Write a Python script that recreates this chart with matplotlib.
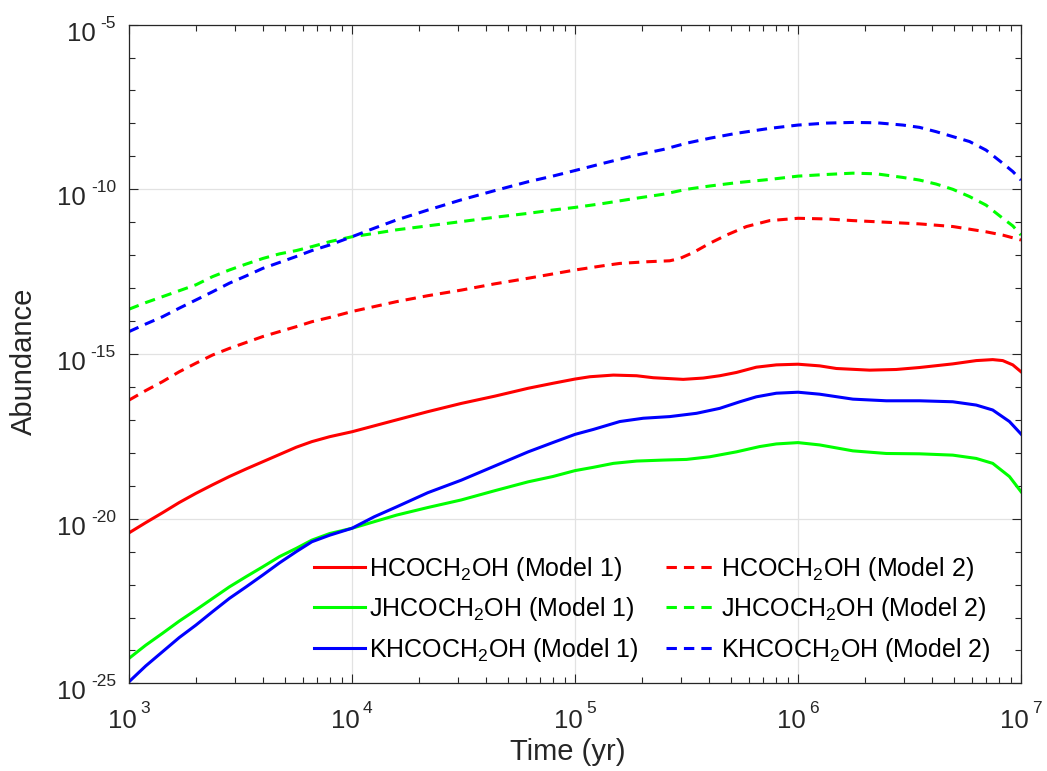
import matplotlib
matplotlib.use("Agg")
import matplotlib.pyplot as plt
from matplotlib.ticker import FixedLocator, NullFormatter
from matplotlib.transforms import offset_copy
import numpy as np

plt.rcParams.update({
    'font.family': ['Liberation Sans', 'DejaVu Sans'],
    'mathtext.fontset': 'custom',
    'mathtext.rm': 'Liberation Sans',
    'mathtext.it': 'Liberation Sans',
    'mathtext.bf': 'Liberation Sans',
})
INK = '#262626'

# log10(t / yr) sample points, 1e3 .. 1e5 and 1e5 .. 1e7
t_early = [3.0, 3.075, 3.15, 3.225, 3.3, 3.375, 3.45, 3.525, 3.6, 3.675, 3.75, 3.82, 3.9,
           4.0, 4.1, 4.2, 4.34, 4.49, 4.64, 4.79, 4.9, 5.0]
t_late_a = [5.067, 5.172, 5.276, 5.351, 5.485, 5.575, 5.649, 5.724, 5.813, 5.903, 6.0, 6.097,
            6.172, 6.321, 6.44, 6.545, 6.694, 6.799, 6.873, 6.918, 6.963, 7.0]
t_late_b = [5.082, 5.201, 5.306, 5.425, 5.545, 5.649, 5.739, 5.813, 5.903, 6.0, 6.097, 6.246,
            6.396, 6.545, 6.694, 6.799, 6.873, 6.948, 7.0]
t_late_c = [5.082, 5.172, 5.276, 5.396, 5.5, 5.604, 5.724, 5.828, 5.903, 6.0, 6.097, 6.246,
            6.396, 6.545, 6.694, 6.799, 6.873, 6.948, 7.0]
t_late_d = [5.127, 5.276, 5.396, 5.5, 5.604, 5.724, 5.873, 6.0, 6.127, 6.246, 6.351, 6.47,
            6.545, 6.619, 6.694, 6.769, 6.843, 6.918, 6.963, 7.0]
t_late_e = [5.127, 5.201, 5.321, 5.425, 5.47, 5.53, 5.604, 5.679, 5.769, 5.873, 6.0, 6.127,
            6.246, 6.396, 6.545, 6.694, 6.843, 6.918, 7.0]

# log10 abundance, Model 1
h1_early = [-20.43, -20.12, -19.82, -19.51, -19.23, -18.97, -18.72, -18.49, -18.27, -18.05,
            -17.83, -17.66, -17.51, -17.36, -17.18, -17.0, -16.75, -16.5, -16.28, -16.04,
            -15.89, -15.76]
h1_late = [-15.69, -15.64, -15.66, -15.72, -15.77, -15.73, -15.66, -15.56, -15.4, -15.33,
           -15.31, -15.36, -15.44, -15.49, -15.47, -15.41, -15.3, -15.2, -15.17, -15.2,
           -15.33, -15.54]
j1_early = [-24.24, -23.84, -23.48, -23.11, -22.77, -22.42, -22.07, -21.76, -21.46, -21.15,
            -20.9, -20.65, -20.45, -20.29, -20.09, -19.89, -19.66, -19.43, -19.15, -18.88,
            -18.72, -18.54]
j1_late = [-18.44, -18.32, -18.25, -18.22, -18.2, -18.12, -17.97, -17.81, -17.73, -17.69,
           -17.76, -17.94, -18.02, -18.03, -18.07, -18.17, -18.32, -18.72, -19.18]
k1_early = [-24.95, -24.47, -24.04, -23.61, -23.23, -22.82, -22.42, -22.07, -21.71, -21.34,
            -21.0, -20.7, -20.5, -20.29, -19.94, -19.64, -19.21, -18.83, -18.4, -17.97,
            -17.69, -17.44]
k1_late = [-17.29, -17.05, -16.95, -16.9, -16.8, -16.65, -16.45, -16.3, -16.19, -16.16,
           -16.22, -16.37, -16.42, -16.42, -16.45, -16.55, -16.7, -17.05, -17.43]

# log10 abundance, Model 2
h2_early = [-16.4, -16.11, -15.84, -15.54, -15.28, -15.03, -14.83, -14.65, -14.47, -14.32,
            -14.17, -14.02, -13.89, -13.71, -13.56, -13.41, -13.23, -13.06, -12.87, -12.7,
            -12.57, -12.45]
h2_late = [-12.32, -12.25, -12.2, -12.17, -12.1, -11.92, -11.64, -11.39, -11.13, -10.95,
           -10.88, -10.9, -10.95, -11.0, -11.05, -11.13, -11.29, -11.39, -11.54]
j2_early = [-13.64, -13.44, -13.26, -13.08, -12.9, -12.65, -12.45, -12.27, -12.1, -11.96,
            -11.86, -11.74, -11.59, -11.44, -11.34, -11.23, -11.11, -10.98, -10.85, -10.73,
            -10.63, -10.55]
j2_late = [-10.43, -10.27, -10.15, -10.0, -9.9, -9.8, -9.7, -9.6, -9.55, -9.51, -9.53, -9.64,
           -9.72, -9.84, -10.0, -10.22, -10.48, -10.88, -11.11, -11.39]
k2_early = [-14.32, -14.09, -13.87, -13.61, -13.36, -13.11, -12.85, -12.63, -12.4, -12.22,
            -12.04, -11.86, -11.69, -11.44, -11.18, -10.93, -10.63, -10.32, -10.04, -9.77,
            -9.6, -9.43]
k2_late = [-9.21, -8.96, -8.79, -8.6, -8.45, -8.3, -8.15, -8.05, -7.99, -7.97, -7.98, -8.05,
           -8.12, -8.25, -8.4, -8.55, -8.81, -9.21, -9.46, -9.72]

species = ['HCOCH$_2$OH', 'JHCOCH$_2$OH', 'KHCOCH$_2$OH']
colors = ['#ff0000', '#00ff00', '#0000ff']
model1 = [(t_late_a, h1_early, h1_late), (t_late_c, j1_early, j1_late),
          (t_late_b, k1_early, k1_late)]
model2 = [(t_late_e, h2_early, h2_late), (t_late_d, j2_early, j2_late),
          (t_late_d, k2_early, k2_late)]

fig = plt.figure(figsize=(10.47, 7.71), dpi=100)
ax = fig.add_axes([0.1232, 0.1136, 0.852, 0.8545])


def series(t_late, early, late):
    t = np.array(t_early + t_late)
    y = np.array(early + late)
    return 10 ** t, 10 ** y


for (tl, e, l), c, name in zip(model1, colors, species):
    ax.plot(*series(tl, e, l), color=c, lw=2.2, label=f'{name} (Model 1)')
for (tl, e, l), c, name in zip(model2, colors, species):
    ax.plot(*series(tl, e, l), color=c, lw=2.2, dashes=(3.4, 2.3),
            label=f'{name} (Model 2)')

ax.set_xscale('log')
ax.set_yscale('log')
ax.set_xlim(1e3, 1e7)
ax.set_ylim(1e-25, 1e-5)

x_exp = [3, 4, 5, 6, 7]
y_exp = [-25, -20, -15, -10, -5]
ax.xaxis.set_major_locator(FixedLocator([10.0 ** e for e in x_exp]))
ax.xaxis.set_minor_locator(FixedLocator([m * 10.0 ** d for d in range(3, 7) for m in range(2, 10)]))
ax.yaxis.set_major_locator(FixedLocator([10.0 ** e for e in y_exp]))
ax.yaxis.set_minor_locator(FixedLocator([10.0 ** e for e in range(-24, -5) if e % 5 != 0]))
ax.xaxis.set_minor_formatter(NullFormatter())
ax.yaxis.set_minor_formatter(NullFormatter())

ax.tick_params(which='both', direction='in', top=True, right=True, colors=INK, width=0.8,
               labelbottom=False, labelleft=False)
ax.tick_params(which='major', length=6.5)
ax.tick_params(which='minor', length=4)
for s in ax.spines.values():
    s.set_color(INK)
    s.set_linewidth(0.9)

ax.grid(True, which='major', color='#e2e2e2', lw=0.9)
ax.set_axisbelow(True)

# power-of-ten labels: base and raised exponent as separate texts
BASE_FS, EXP_FS = 18.5, 12.5
xt = ax.get_xaxis_transform()
for e in x_exp:
    ax.text(10.0 ** e, 0, '10', fontsize=BASE_FS, color=INK, ha='right', va='baseline',
            transform=offset_copy(xt, fig=fig, x=8, y=-44.5, units='dots'))
    ax.text(10.0 ** e, 0, str(e), fontsize=EXP_FS, color=INK, ha='left', va='baseline',
            transform=offset_copy(xt, fig=fig, x=11, y=-29.5, units='dots'))

yt = ax.get_yaxis_transform()
exp_texts = []
for e in y_exp:
    t = ax.text(0, 10.0 ** e, '-%d' % -e, fontsize=EXP_FS, color=INK, ha='right',
                va='baseline', transform=offset_copy(yt, fig=fig, x=-13, y=-3, units='dots'))
    exp_texts.append((e, t))
fig.canvas.draw()
renderer = fig.canvas.get_renderer()
for e, t in exp_texts:
    w = t.get_window_extent(renderer).width
    ax.text(0, 10.0 ** e, '10', fontsize=BASE_FS, color=INK, ha='right', va='baseline',
            transform=offset_copy(yt, fig=fig, x=-13 - w - 5, y=-16, units='dots'))

fig.text(568 / 1047, 11 / 771, 'Time (yr)', fontsize=21, color=INK, ha='center',
         va='baseline')
fig.text(24 / 1047, 410 / 771, 'Abundance', fontsize=21, color=INK, rotation=90,
         ha='center', va='center')

ax.legend(loc='lower right', ncol=2, frameon=False, fontsize=18,
          handlelength=2.05, handletextpad=0.15, columnspacing=1.1,
          labelspacing=0.5, borderpad=0, borderaxespad=0,
          bbox_to_anchor=(0.966, 0.03))

fig.savefig('out.png', dpi=100)
